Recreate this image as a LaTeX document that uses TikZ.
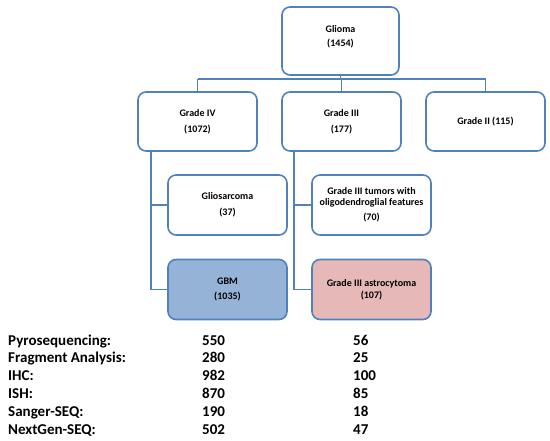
\documentclass[tikz,border=0pt]{standalone}
\usepackage{fontspec}
\setmainfont{Carlito}
\definecolor{bline}{HTML}{4F81BD}
\definecolor{gbmfill}{HTML}{95B3D7}
\definecolor{astrofill}{HTML}{E6B9B8}
\begin{document}
\begin{tikzpicture}[x=1pt,y=-1pt,
  box/.style={draw=bline, line width=1.6pt, rounded corners=8pt, fill=white,
    align=center, font=\fontsize{10}{15}\selectfont\bfseries, inner sep=2pt},
  conn/.style={draw=bline, line width=1.6pt},
  lab/.style={anchor=base west, inner sep=0pt, font=\fontsize{15}{18}\selectfont\bfseries}]
\useasboundingbox (0,0) rectangle (550,440);
\node[box, minimum width=117pt, minimum height=68pt] (glioma) at (340.5,41) {Glioma\\[-1pt](1454)\\[-5pt]\mbox{}};
\node[box, minimum width=119pt, minimum height=59pt] (g4) at (197.5,121.5) {Grade IV\\[1pt](1072)};
\node[box, minimum width=119pt, minimum height=59pt] (g3) at (341.5,121.5) {Grade III\\[1pt](177)};
\node[box, minimum width=119pt, minimum height=59pt] (g2) at (485.5,121.5) {Grade II (115)};
\node[box, minimum width=119pt, minimum height=60pt] (glio) at (227.5,205) {Gliosarcoma\\[1pt](37)};
\node[box, minimum width=119pt, minimum height=60pt, font=\fontsize{10}{11}\selectfont\bfseries] (odg) at (371.5,205) {Grade III tumors with\\oligodendroglial features\\[4pt](70)};
\node[box, minimum width=119pt, minimum height=60pt, fill=gbmfill] (gbm) at (227.5,289.5) {GBM\\(1035)};
\node[box, minimum width=119pt, minimum height=60pt, fill=astrofill, font=\fontsize{10}{11.5}\selectfont\bfseries] (astro) at (371.5,289.5) {Grade III astrocytoma\\(107)};
\coordinate (hy) at (0,79);
\draw[conn] (glioma.south) -- (glioma.south |- hy);
\draw[conn] (g4.north |- hy) -- (g2.north |- hy);
\draw[conn] (g4.north |- hy) -- (g4.north);
\draw[conn] (g3.north |- hy) -- (g3.north);
\draw[conn] (g2.north |- hy) -- (g2.north);
\coordinate (v4) at (151,0);
\coordinate (v3) at (294,0);
\draw[conn] (g4.south -| v4) |- (gbm.west);
\draw[conn] (glio.west -| v4) -- (glio.west);
\draw[conn] (g3.south -| v3) |- (astro.west);
\draw[conn] (odg.west -| v3) -- (odg.west);
\foreach \t/\a/\b [count=\i from 0] in {Pyrosequencing:/550/56, Fragment Analysis:/280/25, IHC:/982/100, ISH:/870/85, Sanger-SEQ:/190/18, NextGen-SEQ:/502/47}{
  \node[lab] (l\i) at (8,345+17.8*\i) {\t};
  \node[lab] (a\i) at (202,345+17.8*\i) {\a};
  \node[lab] (b\i) at (353,345+17.8*\i) {\b};
}
\end{tikzpicture}
\end{document}
